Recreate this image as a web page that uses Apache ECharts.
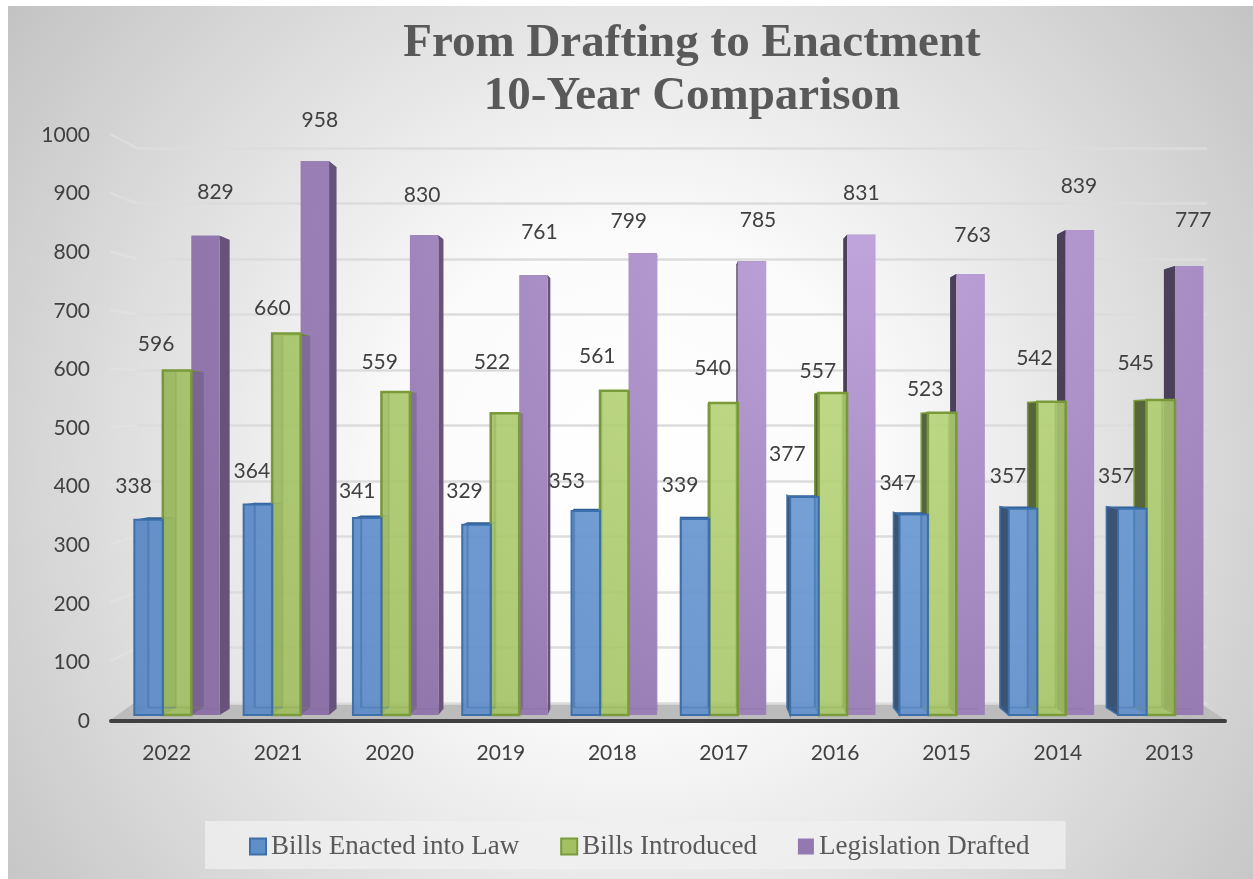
<!DOCTYPE html>
<html><head><meta charset="utf-8">
<style>html,body{margin:0;padding:0;background:#fff;overflow:hidden}#c{width:1253px;height:879px}</style>
<script src="https://cdn.jsdelivr.net/npm/echarts@6/dist/echarts.min.js"></script>
</head><body><div id="c"></div>
<script>
const categories = ['2022','2021','2020','2019','2018','2017','2016','2015','2014','2013'];
const billsEnacted = [338,364,341,329,353,339,377,347,357,357];
const billsIntroduced = [596,660,559,522,561,540,557,523,542,545];
const legislationDrafted = [829,958,830,761,799,785,831,763,839,777];
const yTicks = [0,100,200,300,400,500,600,700,800,900,1000];

// hand-placed data label nudges (dx, dy from the bar's top centre)
const enactedNudge = [[-15,-34],[-6,-34],[-10,-28],[-12,-35],[-19,-31],[-15,-35],[-17,-44],[-16,-32],[-15,-33],[-16,-33]];
const introducedNudge = [[-21,-27],[-14,-26],[-16,-31],[-13,-52],[-17,-36],[-11,-36],[-15,-23],[-17,-24],[-17,-44],[-25,-38]];
const draftedNudge = [[10,-45],[5,-42],[-2,-41],[6,-44],[-14,-33],[6,-42],[0,-42],[2,-40],[-1,-45],[4,-47]];

const VX = 670, VY = 430, BAR_FRAC = 0.2605, LABEL_DY = 1;
const radial = (a,b) => new echarts.graphic.RadialGradient(860,220,720,[{offset:0,color:a},{offset:1,color:b}],true);

const styles = [
 {name:'Bills Enacted into Law', vals:billsEnacted, nudge:enactedNudge, slot:0, k:0.026,
  front:radial('rgba(116,163,220,0.93)','rgba(92,138,198,0.93)'), border:'#3d70aa', bw:2,
  edge:'rgba(58,110,175,0.5)', floorEdge:'rgba(58,110,175,0.35)', glass:'rgba(50,95,150,0.05)', outerL:'#3b5474', outerR:'rgba(40,80,130,0.30)', top:'#2f5f96', zs:4, zf:6, legend:'#5f8fc8'},
 {name:'Bills Introduced', vals:billsIntroduced, nudge:introducedNudge, slot:1, k:0.026,
  front:radial('rgba(190,219,130,0.90)','rgba(160,190,95,0.90)'), border:'#7a9a3b', bw:2.5,
  edge:'rgba(125,160,65,0.22)', floorEdge:'rgba(125,160,65,0.25)', glass:'rgba(80,110,40,0.09)', outerL:'#56663a', outerR:'rgba(50,45,60,0.22)', top:'#7a9a3b', zs:3, zf:5, legend:'#a3c163'},
 {name:'Legislation Drafted', vals:legislationDrafted, nudge:draftedNudge, slot:2, k:0.022,
  front:radial('#c0a6dd','#8d72a8'), border:null, bw:0,
  edge:null, floorEdge:'rgba(120,95,150,0.18)', glass:null, outerL:'#4b4059', outerR:'#675379', top:'#7d6695', zs:1, zf:2, legend:'#9478b0'}
];

function barRenderer(st){
  return function(params, api){
    const i = api.value(0), v = api.value(1);
    const top = api.coord([i,v]), base = api.coord([i,0]);
    const w = api.size([1,0])[0] * BAR_FRAC;
    const x0 = top[0] + (st.slot-1.5)*w, x1 = x0 + w;
    const y0 = top[1], y1 = base[1];
    const bk = (x,y) => [x + st.k*(VX-x), y + st.k*(VY-y)];
    const p = (pts, fill, z, stroke) => ({type:'polygon', z2:z, shape:{points:pts},
      style:{fill:fill, stroke:stroke||null, lineWidth:stroke?1.5:0}});
    const ln = (a,b,z,c,lw) => ({type:'line', z2:z, shape:{x1:a[0],y1:a[1],x2:b[0],y2:b[1]}, style:{stroke:c, lineWidth:lw}});
    const tl=bk(x0,y0), tr=bk(x1,y0), bl=bk(x0,y1), br=bk(x1,y1);
    const kids = [];
    kids.push(p([[x0,y0],[x1,y0],tr,tl], st.top, st.zs));
    const leftOut = x0 > VX, rightOut = x1 < VX;
    if (leftOut) kids.push(p([[x0,y0],tl,bl,[x0,y1]], st.outerL, st.zs, st.border||null));
    if (rightOut) kids.push(p([[x1,y0],tr,br,[x1,y1]], st.outerR, st.zs));
    kids.push({type:'rect', z2:st.zf, shape:{x:x0,y:y0,width:w,height:y1-y0},
      style:{fill:st.front, stroke:st.border, lineWidth:st.bw}});
    // see-through back edges of the box, drawn over the translucent front
    const gz = st.zf + 1;
    if (!leftOut) {
      if (st.edge) kids.push(ln(tl,bl,gz,st.edge,2));
      if (st.glass) kids.push(p([[x0,y0],tl,bl,[x0,y1]], st.glass, gz));
    }
    if (!rightOut) {
      if (st.edge) kids.push(ln(tr,br,gz,st.edge,2));
      if (st.glass) kids.push(p([[x1,y0],tr,br,[x1,y1]], st.glass, gz));
    }
    kids.push(ln(bl,br,gz,st.floorEdge,1.5));
    const n = st.nudge[i];
    kids.push({type:'text', z2:20, style:{text:String(v), x:(x0+x1)/2+n[0], y:y0+n[1]+LABEL_DY, align:'center', verticalAlign:'middle',
      textAlign:'center', textVerticalAlign:'middle', font:'21px Lato', fill:'#404040'}});
    return {type:'group', children:kids};
  };
}

const chart = echarts.init(document.getElementById('c'), null, {renderer:'canvas', width:1253, height:879});
const hidden = {show:false};
chart.setOption({
  animation:false,
  backgroundColor:'#fff',
  title:{text:'From Drafting to Enactment\n10-Year Comparison', left:687, top:12, textAlign:'center',
    textStyle:{fontFamily:'Liberation Serif', fontWeight:'bold', fontSize:47, lineHeight:53, color:'#595959'}},
  legend:{left:205, top:821, padding:[12,36,9,44], itemGap:41, itemWidth:16, itemHeight:16, icon:'rect',
    backgroundColor:'rgba(240,240,240,0.75)',
    textStyle:{fontFamily:'Liberation Serif', fontSize:27, color:'#595959'},
    data:styles.map(s=>s.name)},
  graphic:[
    {type:'rect', z:-10, silent:true, shape:{x:8,y:6,width:1245,height:873},
     style:{fill:new echarts.graphic.RadialGradient(635,470,790,[{offset:0,color:'#ffffff'},{offset:0.3,color:'#fbfbfb'},{offset:1,color:'#c2c2c2'}],true)}},
    {type:'polygon', z:0, silent:true, shape:{points:[[112,719],[1224,719],[1200,703],[134,703]]}, style:{fill:'#bcbcbc'}}
  ],
  grid:[
    {left:111, right:28, top:135, bottom:158},
    {left:122.4, width:1093, top:137, height:578},
    {left:137, width:1070, top:148, height:555}
  ],
  xAxis:[
    {gridIndex:0, type:'category', data:categories, axisTick:hidden, z:3,
     axisLine:{lineStyle:{color:'#404040',width:4,cap:'round'}},
     axisLabel:{margin:22, fontFamily:'Lato', fontSize:21, color:'#404040'}},
    {gridIndex:1, type:'category', data:categories, show:false},
    {gridIndex:2, type:'category', data:categories, show:false}
  ],
  yAxis:[
    {gridIndex:0, type:'value', min:0, max:1000, interval:100, axisLine:hidden, axisTick:hidden, splitLine:hidden,
     axisLabel:{margin:21, fontFamily:'Lato', fontSize:21, color:'#404040', formatter:v=>String(v)}},
    {gridIndex:1, type:'value', min:0, max:1000, interval:100, show:false},
    {gridIndex:2, type:'value', min:0, max:1000, interval:100, axisLine:hidden, axisTick:hidden, axisLabel:hidden,
     splitLine:{lineStyle:{color:'#dcdcdc',width:2.5}}}
  ],
  series:[
    {type:'custom', silent:true, xAxisIndex:2, yAxisIndex:2, clip:false, z:0, legendHoverLink:false,
     data:yTicks.map(t=>[0,t]),
     renderItem:function(params, api){
       const t = api.value(1), y = api.coord([0,t])[1];
       const yf = 720 - (703-y)*(586/555);
       return t===0 ? {type:'group',children:[]} : {type:'line', shape:{x1:110,y1:yf,x2:137,y2:y},
         style:{stroke:'rgba(228,228,228,0.55)', lineWidth:2.5}};
     }},
    ...styles.map(st=>({
      type:'custom', name:st.name, xAxisIndex:1, yAxisIndex:1, clip:false, z:2, silent:true,
      itemStyle:{color:st.legend, borderColor:st.border||st.legend, borderWidth:st.border?2:0},
      data:st.vals.map((v,i)=>[i,v]), encode:{x:0,y:1},
      renderItem:barRenderer(st)
    }))
  ]
});
</script></body></html>
